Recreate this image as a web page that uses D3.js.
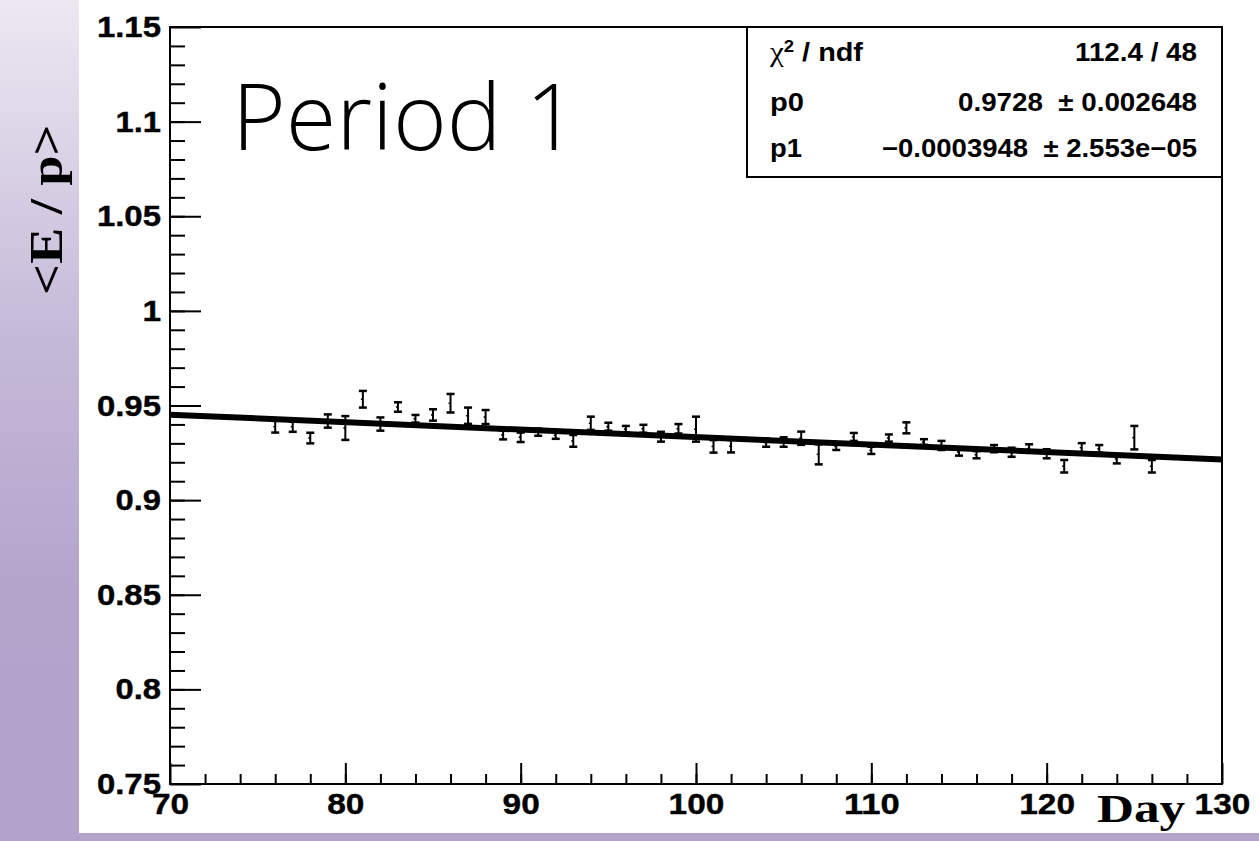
<!DOCTYPE html>
<html>

<head>
  <title>Period 1 E/p</title>
  <style>
    body { margin: 0; background: #fff; }
    svg { display: block; }
  </style>
</head>

<body>
  <svg id="svg"></svg>

  <script src="https://cdnjs.cloudflare.com/ajax/libs/d3/7.8.5/d3.min.js"></script>

  <script>
    // measured points: day, <E/p>, error
    const days = [76, 77, 78, 79, 80, 81, 82, 83, 84, 85, 86, 87, 88, 89, 90, 91, 92, 93, 94, 95,
      96, 97, 98, 99, 100, 101, 102, 104, 105, 106, 107, 108, 109, 110, 111, 112, 113, 114, 115,
      116, 117, 118, 119, 120, 121, 122, 123, 124, 125, 126];
    const values = [0.9388, 0.9388, 0.9328, 0.9418, 0.9381, 0.9533, 0.9402, 0.9492, 0.9430, 0.9450,
      0.9512, 0.9446, 0.9439, 0.9344, 0.9332, 0.9359, 0.9343, 0.9313, 0.9406, 0.9388,
      0.9375, 0.9377, 0.9335, 0.9377, 0.9375, 0.9284, 0.9285, 0.9304, 0.9307, 0.9327,
      0.9242, 0.9284, 0.9334, 0.9263, 0.9328, 0.9382, 0.9307, 0.9289, 0.9254, 0.9240,
      0.9272, 0.9253, 0.9273, 0.9245, 0.9179, 0.9277, 0.9271, 0.9218, 0.9330, 0.9179];
    const errors = [0.0031, 0.0027, 0.0028, 0.0035, 0.0063, 0.0044, 0.0035, 0.0025, 0.0020, 0.0030,
      0.0049, 0.0043, 0.0037, 0.0023, 0.0025, 0.0019, 0.0019, 0.0031, 0.0035, 0.0021,
      0.0017, 0.0021, 0.0026, 0.0025, 0.0066, 0.0033, 0.0033, 0.0022, 0.0025, 0.0035,
      0.0053, 0.0019, 0.0021, 0.0019, 0.0019, 0.0029, 0.0015, 0.0024, 0.0019, 0.0019,
      0.0019, 0.0024, 0.0022, 0.0024, 0.0033, 0.0024, 0.0020, 0.0024, 0.0062, 0.0033];

    // linear fit shown in the stats box
    const p0 = 0.9728, p1 = -0.0003948;
    const statLabels = ["χ2 / ndf", "p0", "p1"];
    const statValues = ["112.4 / 48", "0.9728  \u00b1 0.002648", "\u22120.0003948  \u00b1 2.553e\u221205"];

    const xDomain = [70, 130];
    const yDomain = [0.75, 1.15];
    const xMajor = [70, 80, 90, 100, 110, 120, 130];
    const yMajor = [0.75, 0.8, 0.85, 0.9, 0.95, 1, 1.05, 1.1, 1.15];

    const W = 1259, H = 841;
    const plot = { left: 170, top: 27, right: 1222, bottom: 784 };
    const sans = "'Liberation Sans', Arial, Helvetica, sans-serif";
    const serif = "'Liberation Serif', 'Times New Roman', serif";

    const svg = d3.select("#svg").attr("width", W).attr("height", H);

    // slide background
    const grad = svg.append("defs").append("linearGradient")
      .attr("id", "band").attr("x1", 0).attr("y1", 0).attr("x2", 0).attr("y2", 1);
    grad.append("stop").attr("offset", "0%").attr("stop-color", "#ece8f2");
    grad.append("stop").attr("offset", "40%").attr("stop-color", "#c5b9d8");
    grad.append("stop").attr("offset", "70%").attr("stop-color", "#b4a4cc");
    grad.append("stop").attr("offset", "100%").attr("stop-color", "#b3a2cb");

    svg.append("rect").attr("width", W).attr("height", H).attr("fill", "#b3a2cb");
    svg.append("rect").attr("width", 79).attr("height", H).attr("fill", "url(#band)");
    svg.append("rect").attr("x", 79).attr("width", W - 79).attr("height", 833).attr("fill", "#fff");

    const x = d3.scaleLinear().domain(xDomain).range([plot.left, plot.right]);
    const y = d3.scaleLinear().domain(yDomain).range([plot.bottom, plot.top]);

    // minor ticks
    svg.append("g")
      .attr("transform", `translate(${plot.left},0)`)
      .call(d3.axisLeft(y).tickValues(d3.range(76, 115).map(v => v / 100)).tickSizeInner(-15).tickSizeOuter(0).tickFormat(""))
      .call(g => g.select(".domain").remove())
      .selectAll("line").attr("stroke-width", 2);
    svg.append("g")
      .attr("transform", `translate(0,${plot.bottom})`)
      .call(d3.axisBottom(x).tickValues(d3.range(72, 130, 2)).tickSizeInner(-10).tickSizeOuter(0).tickFormat(""))
      .call(g => g.select(".domain").remove())
      .selectAll("line").attr("stroke-width", 2);

    // major ticks + labels
    const yAxis = svg.append("g")
      .attr("transform", `translate(${plot.left},0)`)
      .call(d3.axisLeft(y).tickValues(yMajor).tickSizeInner(-31).tickSizeOuter(0).tickPadding(9)
        .tickFormat(d => String(+d.toFixed(2))));
    const xAxis = svg.append("g")
      .attr("transform", `translate(0,${plot.bottom})`)
      .call(d3.axisBottom(x).tickValues(xMajor).tickSizeInner(-21).tickSizeOuter(0).tickPadding(9));

    [yAxis, xAxis].forEach(ax => {
      ax.select(".domain").remove();
      ax.selectAll("line").attr("stroke-width", 2);
      ax.selectAll("text")
        .attr("font-family", sans).attr("font-weight", "bold").attr("font-size", 30)
        .attr("fill", "#000").attr("stroke", "#000").attr("stroke-width", 0.4)
        .attr("lengthAdjust", "spacingAndGlyphs");
    });
    // labels in the picture are a little wider than plain Helvetica
    const labelLen = s => [...s].reduce((a, c) => a + (c === "." ? 8.3 : 18.6), 0);
    xAxis.selectAll(".tick text").attr("textLength", d => labelLen(String(d)));
    yAxis.selectAll(".tick text").attr("textLength", d => labelLen(String(+d.toFixed(2))));

    // frame
    svg.append("rect")
      .attr("x", plot.left).attr("y", plot.top)
      .attr("width", plot.right - plot.left).attr("height", plot.bottom - plot.top)
      .attr("fill", "none").attr("stroke", "#000").attr("stroke-width", 2);

    // fit line
    svg.append("line")
      .attr("x1", x(xDomain[0])).attr("y1", y(p0 + p1 * xDomain[0]))
      .attr("x2", x(xDomain[1])).attr("y2", y(p0 + p1 * xDomain[1]))
      .attr("stroke", "#000").attr("stroke-width", 6);

    // error bars
    const pts = days.map((d, i) => ({ day: d, v: values[i], e: errors[i] }));
    const bars = svg.append("g").attr("stroke", "#000").selectAll("g").data(pts).join("g");
    bars.append("line")
      .attr("x1", d => x(d.day)).attr("x2", d => x(d.day))
      .attr("y1", d => y(d.v + d.e)).attr("y2", d => y(d.v - d.e))
      .attr("stroke-width", 2);
    bars.selectAll(".cap").data(d => [d.v + d.e, d.v - d.e].map(v => ({ day: d.day, v })))
      .join("line").attr("class", "cap")
      .attr("x1", d => x(d.day) - 4).attr("x2", d => x(d.day) + 4)
      .attr("y1", d => y(d.v)).attr("y2", d => y(d.v))
      .attr("stroke-width", 2.5);
    bars.append("line")
      .attr("x1", d => x(d.day) - 2).attr("x2", d => x(d.day))
      .attr("y1", d => y(d.v)).attr("y2", d => y(d.v))
      .attr("stroke-width", 1.5);

    // stats box
    const box = { x: 747, y: 27, w: 475, h: 150 };
    svg.append("rect")
      .attr("x", box.x).attr("y", box.y).attr("width", box.w).attr("height", box.h)
      .attr("fill", "#fff").attr("stroke", "#000").attr("stroke-width", 2);
    const rowBase = [61, 111, 157];
    const labLen = [93, 34, 32];
    statLabels.forEach((lab, i) => {
      const t = svg.append("text")
        .attr("x", 770).attr("y", rowBase[i])
        .attr("font-family", sans).attr("font-weight", "bold").attr("font-size", 25)
        .attr("textLength", labLen[i]).attr("lengthAdjust", "spacingAndGlyphs");
      if (i === 0) {
        t.append("tspan").attr("font-family", serif).attr("font-weight", "normal").attr("font-size", 27).text("χ");
        t.append("tspan").attr("dy", -9).attr("font-size", 16).text("2");
        t.append("tspan").attr("dy", 9).text(" / ndf");
      } else {
        t.text(lab);
      }
    });
    const valLen = [122, 239, 315];
    statValues.forEach((v, i) => {
      svg.append("text")
        .attr("x", 1197).attr("y", rowBase[i])
        .attr("text-anchor", "end")
        .attr("font-family", sans).attr("font-weight", "bold").attr("font-size", 25)
        .attr("textLength", valLen[i]).attr("lengthAdjust", "spacingAndGlyphs")
        .style("white-space", "pre")
        .text(v);
    });

    // title
    svg.append("text")
      .attr("x", 232).attr("y", 150)
      .attr("font-family", "'Open Sans', Lato, sans-serif").attr("font-weight", 300).attr("font-size", 93)
      .attr("textLength", 346).attr("lengthAdjust", "spacingAndGlyphs")
      .text("Period 1");

    // axis titles (serif, stretched along the baseline as in the picture)
    svg.append("text")
      .attr("transform", "translate(1097,822) scale(1.25,1)")
      .attr("font-family", serif).attr("font-weight", "bold").attr("font-size", 41)
      .text("Day");
    svg.append("text")
      .attr("transform", "translate(62,295) rotate(-90) scale(1.18,1)")
      .attr("font-family", serif).attr("font-weight", "bold").attr("font-size", 46)
      .text("<E / p>");
  </script>
</body>

</html>
